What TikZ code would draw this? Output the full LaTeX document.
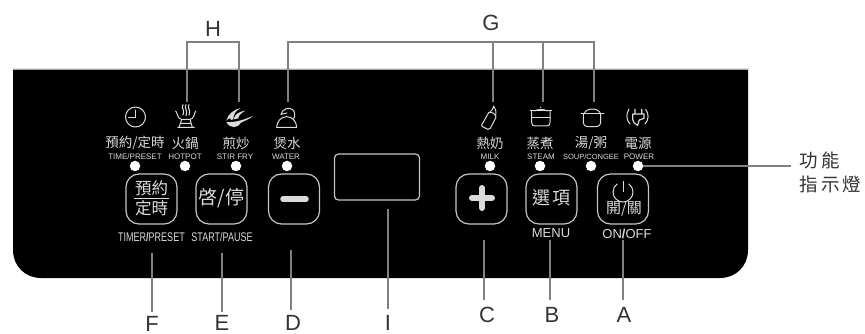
\documentclass[tikz,border=0pt]{standalone}
\usepackage{fontspec}
\setmainfont{Liberation Sans}
\newfontfamily\cjk{Noto Sans CJK TC}
\newfontfamily\narrowf[FakeStretch=0.72]{Liberation Sans}
\newcommand\fsz[1]{\fontsize{#1}{#1}\selectfont}
\definecolor{fgc}{gray}{0.86}
\definecolor{leadc}{gray}{0.5}
\definecolor{inkc}{gray}{0.2}
\tikzset{
  zh/.style={inner sep=0pt,text=fgc,font=\cjk\fsz{13.5}},
  en/.style={inner sep=0pt,text=fgc,font=\fsz{8}},
  enb/.style={inner sep=0pt,text=fgc,font=\narrowf\fsz{12.5}},
  lamp/.style={circle,fill=white,inner sep=0pt,minimum size=10.5pt},
  keybox/.style={draw=fgc!90!black,line width=1.2pt,rounded corners=13pt,inner sep=0pt,minimum width=51pt,minimum height=50pt},
  lead/.style={draw=leadc,line width=1.2pt},
  letter/.style={inner sep=0pt,text=inkc,font=\fsz{22}},
  ico/.style={draw=fgc,line width=1pt,line cap=round,line join=round},
  icofill/.style={fill=fgc,draw=none},
  zoomA/.style={shift={(175,100)},x=0.33333pt,y=-0.33333pt},
  zoomB/.style={shift={(480,100)},x=0.33333pt,y=-0.33333pt},
}
\begin{document}
\begin{tikzpicture}[x=1pt,y=-1pt]
\useasboundingbox (0,0) rectangle (865,334);
% panel
\fill[black] (13,69) -- (748,69) -- (748,250) .. controls (748,266) and (736,278) .. (720,278)
  -- (41,278) .. controls (25,278) and (13,266) .. (13,250) -- cycle;
\draw[gray!70,line width=0.5pt] (13,69) -- (748,69);
% lamps
\node[lamp] (l1) at (135,166) {};
\node[lamp] (l2) at (185,166) {};
\node[lamp] (l3) at (236,166) {};
\node[lamp] (l4) at (287,166) {};
\node[lamp] (l5) at (490,166) {};
\node[lamp] (l6) at (540,166) {};
\node[lamp] (l7) at (591,166) {};
\node[lamp] (l8) at (638,166) {};
% keys
\node[keybox] (kt) at (151.5,199) {};
\node[keybox] (ks) at (221.5,199) {};
\node[keybox] (km) at (294,199) {};
\node[keybox] (kp) at (481.5,199) {};
\node[keybox] (ko) at (551.5,199) {};
\node[keybox] (kw) at (623,199) {};
\node[draw=fgc!90!black,line width=1.2pt,rounded corners=4pt,inner sep=0pt,minimum width=85pt,minimum height=46pt] (disp) at (377,177) {};
% small labels
\node[zh] (t1) at (135,143) {預約/定時};
\node[zh] (t2) at (185,143) {火鍋};
\node[zh] (t3) at (236,143) {煎炒};
\node[zh] (t4) at (287,143) {煲水};
\node[zh] (t5) at (490,143) {熱奶};
\node[zh] (t6) at (540,143) {蒸煮};
\node[zh] (t7) at (591,143) {湯/粥};
\node[zh] (t8) at (638,143) {電源};
\node[en] (e1) at (135,157) {TIME/PRESET};
\node[en] (e2) at (185,157) {HOTPOT};
\node[en] (e3) at (235,157) {STIR FRY};
\node[en] (e4) at (286,157) {WATER};
\node[en] (e5) at (490,157) {MILK};
\node[en] (e6) at (541,157) {STEAM};
\node[en,font=\fsz{7.5}] (e7) at (591,157) {SOUP/CONGEE};
\node[en] (e8) at (639,157) {POWER};
% key faces
\node[zh,font=\cjk\fsz{16.5}] (kt1) at (151.5,188.5) {預約};
\node[zh,font=\cjk\fsz{16.5}] (kt2) at (151.5,208.5) {定時};
\draw[fgc,line width=1pt] (134,198.3) -- (169,198.3);
\node[zh,font=\cjk\fsz{19}] (ks1) at (221.5,198) {啓/停};
\node[zh,font=\cjk\fsz{18}] (ko1) at (551.5,198) {選\kern2pt 項};
\node[zh,font=\cjk\fsz{15}] (kw1) at (624,209) {開/關};
\draw[fgc,line width=5.5pt,line cap=round] (283,199) -- (306,199);
\draw[fgc,line width=6pt,line cap=round] (472,198) -- (492,198) (482,188) -- (482,208);
\draw[fgc,line width=1pt] (617.3,183.8) .. controls (614.5,185.8) and (613,188.7) .. (613,192)
  .. controls (613,197.5) and (617.5,202) .. (623,202)
  .. controls (628.5,202) and (633,197.5) .. (633,192)
  .. controls (633,188.7) and (631.5,185.8) .. (628.7,183.8);
\draw[fgc,line width=1pt] (623,181) -- (623,192);
\node[enb] (b1) at (151.5,237) {TIMER\textbf{/}PRESET};
\node[enb] (b2) at (222,237) {START/PAUSE};
\node[enb,font=\fsz{13}] (b3) at (551,233) {MENU};
\node[enb,font=\fsz{13}] (b4) at (627,234) {ON\textbf{/}OFF};
% top leaders
\coordinate (hl) at (187,102);
\coordinate (hr) at (239,102);
\coordinate (g1) at (288,102);
\coordinate (g2) at (493,102);
\coordinate (g3) at (543,102);
\coordinate (g4) at (594,102);
\coordinate (hm) at (213,42);
\coordinate (gm) at (491,42);
\draw[lead] (hl) |- (hm) -| (hr);
\draw[lead] (g1) |- (gm) -| (g4);
\draw[lead] (g2) -- (g2 |- gm);
\draw[lead] (g3) -- (g3 |- gm);
\node[letter] (H) at (213,29) {H};
\node[letter] (G) at (491,23) {G};
% bottom leaders
\node[letter] (F) at (152,323.5) {F};
\node[letter] (E) at (222,323) {E};
\node[letter] (D) at (293,323) {D};
\node[letter] (I) at (388,323) {I};
\node[letter] (C) at (487,315) {C};
\node[letter] (B) at (552,315) {B};
\node[letter] (A) at (624,315) {A};
\coordinate (fe) at (152,253);
\coordinate (ee) at (222,253);
\coordinate (de) at (291,250);
\coordinate (ie) at (388,209);
\coordinate (ce) at (484,240);
\coordinate (be) at (550,240);
\coordinate (ae) at (623,240);
\draw[lead] (fe) -- (fe |- 0,312);
\draw[lead] (ee) -- (ee |- 0,312);
\draw[lead] (de) -- (de |- 0,310);
\draw[lead] (ie) -- (ie |- 0,309);
\draw[lead] (ce) -- (ce |- 0,300);
\draw[lead] (be) -- (be |- 0,300);
\draw[lead] (ae) -- (ae |- 0,300);
% function lamp label
\coordinate (fn) at (791,166);
\draw[lead] (l8) -- (fn);
\node[inner sep=0pt,anchor=west,text=inkc,font=\cjk\fsz{18.5}] (f1) at (799.5,160) {功\kern3pt 能};
\node[inner sep=0pt,anchor=west,text=inkc,font=\cjk\fsz{18.5}] (f2) at (799.5,184) {指\kern3pt 示\kern3pt 燈};
% clock
\draw[ico] (135.5,117) circle (10);
\draw[ico] (135.5,110) -- (135.5,118) -- (128.5,118);
% icons in crop coordinates
\begin{scope}[zoomA]
 % hotpot
 \draw[ico] (2,33) .. controls (8,40) and (8,58) .. (20,58) -- (45,58) .. controls (57,58) and (57,40) .. (62,33);
 \draw[ico] (20,58) -- (12,82) (45,58) -- (52,82) (8,82) -- (58,82) (17,70) -- (48,70);
 \draw[ico,line width=1.1pt] (24,14) .. controls (17,24) and (31,30) .. (24,45)
   (33,14) .. controls (26,24) and (40,30) .. (33,47)
   (42,14) .. controls (35,24) and (49,30) .. (42,45);
 % wok
 \fill[icofill] (154,66) .. controls (180,68) and (205,60) .. (233,48) .. controls (225,58) and (208,62) .. (198,68)
   .. controls (190,84) and (165,88) .. (154,66) -- cycle;
 \fill[icofill] (154,62) .. controls (158,42) and (178,28) .. (197,24) .. controls (182,32) and (175,42) .. (175,58) -- (167,60)
   .. controls (168,52) and (162,54) .. (154,62) -- cycle;
 \fill[icofill] (176,58) .. controls (178,44) and (192,34) .. (212,32) .. controls (200,38) and (190,46) .. (190,55) -- cycle;
 % kettle
 \draw[ico] (305,82) -- (365,82) .. controls (365,65) and (352,50) .. (335,50) .. controls (318,50) and (305,65) .. (305,82) -- cycle;
 \draw[ico] (318,43) .. controls (322,28) and (340,20) .. (352,28) .. controls (362,36) and (360,50) .. (356,56);
 \draw[ico] (318,43) -- (336,39);
\end{scope}
\begin{scope}[zoomB]
 % bottle
 \draw[ico] (5,75) -- (26,38) .. controls (34,34) and (48,42) .. (48,52) -- (31,85) .. controls (29,89) and (26,89) .. (24,88) -- (6,79) .. controls (4,78) and (4,77) .. (5,75) -- cycle;
 \draw[ico] (30,36) .. controls (36,32) and (40,26) .. (41,18) .. controls (47,24) and (49,34) .. (47,47);
 % steamer
 \fill[fgc] (182,22) circle (2);
 \draw[ico] (150,33) -- (215,33) (155,52) -- (210,52);
 \draw[ico] (163,33) .. controls (170,27) and (195,27) .. (202,33);
 \draw[ico] (155,33) -- (155,68) .. controls (155,75) and (159,78) .. (165,78) -- (200,78) .. controls (206,78) and (210,75) .. (210,68) -- (210,33);
 % soup pot
 \draw[ico] (303,42) -- (372,42);
 \draw[ico] (312,42) .. controls (315,32) and (325,27) .. (337,27) .. controls (349,27) and (359,32) .. (362,42);
 \draw[ico] (310,42) -- (310,68) .. controls (310,75) and (315,80) .. (322,80) -- (350,80) .. controls (357,80) and (362,75) .. (362,68) -- (362,42);
 % plug
 \draw[ico] (447,28) .. controls (438,40) and (438,60) .. (450,72);
 \draw[ico] (497,28) .. controls (507,40) and (507,60) .. (495,72);
 \draw[ico,line width=1.2pt] (465,28) -- (465,42) (485,28) -- (485,42) (458,42) -- (492,42) -- (492,55) -- (478,60) -- (473,76) (458,42) -- (458,58) .. controls (458,66) and (464,72) .. (473,76);
\end{scope}
\end{tikzpicture}
\end{document}
